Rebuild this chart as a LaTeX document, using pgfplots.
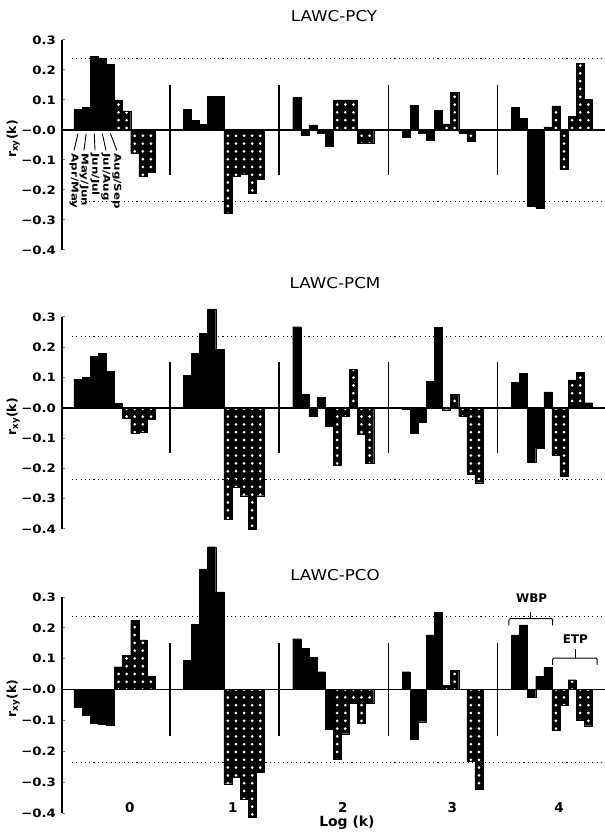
\documentclass[border=0pt]{standalone}
\usepackage{pgfplots}
\pgfplotsset{compat=1.18}
\usepackage{pgfplotstable}
\usepackage{fontspec}
\setmainfont{DejaVu Sans}
\usetikzlibrary{patterns}
\pgfdeclarepatternformonly{wdotsA}{\pgfqpoint{-1bp}{-1bp}}{\pgfqpoint{9.1bp}{8.8bp}}{\pgfqpoint{8.1bp}{7.8bp}}{%
  \pgfpathcircle{\pgfqpoint{5.14bp}{4bp}}{1.5bp}\pgfusepath{fill}}
\pgfdeclarepatternformonly{wdotsB}{\pgfqpoint{-1bp}{-1bp}}{\pgfqpoint{9.1bp}{8.8bp}}{\pgfqpoint{8.1bp}{7.8bp}}{%
  \pgfpathcircle{\pgfqpoint{1.08bp}{4bp}}{1.5bp}\pgfusepath{fill}}

% ---------- LAWC-PCY ----------
\pgfplotstableread{
x y
0.5 0.068
1.5 0.076
2.5 0.245
3.5 0.240
4.5 0.218
14 0.068
15 0.032
16 0.019
17 0.113
18 0.113
27.5 0.108
28.5 -0.016
29.5 0.017
30.5 -0.011
31.5 -0.055
41 -0.025
42 0.083
43 -0.011
44 -0.033
45 0.065
54.5 0.075
55.5 0.038
56.5 -0.253
57.5 -0.260
58.5 0.010
}\pcyW
\pgfplotstableread{
x y
5.5 0.100
6.5 0.064
7.5 -0.078
8.5 -0.155
9.5 -0.140
32.5 0.100
33.5 0.100
34.5 0.100
35.5 -0.045
36.5 -0.045
59.5 0.080
60.5 -0.130
61.5 0.045
62.5 0.222
63.5 0.103
}\pcyA
\pgfplotstableread{
x y
19 -0.278
20 -0.153
21 -0.147
22 -0.210
23 -0.163
46 0.020
47 0.126
48 -0.010
49 -0.036
50 0.002
}\pcyB

% ---------- LAWC-PCM ----------
\pgfplotstableread{
x y
0.5 0.094
1.5 0.100
2.5 0.170
3.5 0.180
4.5 0.120
14 0.108
15 0.180
16 0.246
17 0.327
18 0.193
27.5 0.268
28.5 0.045
29.5 -0.028
30.5 0.034
31.5 -0.060
41 -0.003
42 -0.083
43 -0.047
44 0.087
45 0.266
54.5 0.085
55.5 0.113
56.5 -0.178
57.5 -0.132
58.5 0.053
}\pcmW
\pgfplotstableread{
x y
5.5 0.015
6.5 -0.034
7.5 -0.083
8.5 -0.079
9.5 -0.038
32.5 -0.190
33.5 -0.028
34.5 0.127
35.5 -0.088
36.5 -0.183
59.5 -0.155
60.5 -0.226
61.5 0.092
62.5 0.118
63.5 0.017
}\pcmA
\pgfplotstableread{
x y
19 -0.368
20 -0.262
21 -0.290
22 -0.400
23 -0.290
46 -0.006
47 0.045
48 -0.028
49 -0.220
50 -0.247
}\pcmB

% ---------- LAWC-PCO ----------
\pgfplotstableread{
x y
0.5 -0.058
1.5 -0.083
2.5 -0.109
3.5 -0.112
4.5 -0.116
14 0.094
15 0.211
16 0.391
17 0.463
18 0.317
27.5 0.165
28.5 0.134
29.5 0.105
30.5 0.058
31.5 -0.128
41 0.058
42 -0.160
43 -0.104
44 0.177
45 0.250
54.5 0.177
55.5 0.210
56.5 -0.024
57.5 0.043
58.5 0.072
}\pcoW
\pgfplotstableread{
x y
5.5 0.074
6.5 0.111
7.5 0.224
8.5 0.161
9.5 0.044
32.5 -0.225
33.5 -0.143
34.5 -0.043
35.5 -0.109
36.5 -0.043
59.5 -0.133
60.5 -0.052
61.5 0.032
62.5 -0.100
63.5 -0.117
}\pcoA
\pgfplotstableread{
x y
19 -0.305
20 -0.284
21 -0.355
22 -0.413
23 -0.268
46 0.013
47 0.063
48 0.000
49 -0.233
50 -0.322
}\pcoB

\tikzset{
  zeroline/.style={line width=1.6bp},
  sep/.style={line width=1.4bp},
  sig/.style={line width=1.1bp, dash pattern=on 1.1bp off 3.2bp},
  mlab/.style={rotate=-90, anchor=west, inner sep=0pt, font=\bfseries\fontsize{9.5}{9.5}\selectfont},
  xlab/.style={font=\bfseries\fontsize{13.5}{14}\selectfont},
}
\pgfplotsset{
  panel/.style={
    anchor=south west, scale only axis, width=543bp,
    xmin=-1.48, xmax=65.56, ymin=-0.4, ymax=0.3,
    axis x line=none, axis y line*=left,
    y axis line style={line width=1.8bp},
    ytick={-0.4,-0.3,-0.2,-0.1,0,0.1,0.2,0.3},
    yticklabels={\scalebox{1.15}[1]{−0.4},\scalebox{1.15}[1]{−0.3},\scalebox{1.15}[1]{−0.2},\scalebox{1.15}[1]{−0.1},\scalebox{1.15}[1]{−0.0},\scalebox{1.15}[1]{0.1},\scalebox{1.15}[1]{0.2},\scalebox{1.15}[1]{0.3}},
    tick align=inside, major tick length=2.5bp,
    ytick style={line width=1bp},
    yticklabel style={font=\bfseries\fontsize{11.6}{12}\selectfont, xshift=-2.5bp},
    clip=false,
  },
  wbp/.style={ybar, bar width=1, bar shift=0pt, fill=black, draw=black, line width=0.3bp},
  etpA/.style={ybar, bar width=1, bar shift=0pt, fill=black, draw=black, line width=0.3bp,
    postaction={pattern=wdotsA, pattern color=white}},
  etpB/.style={ybar, bar width=1, bar shift=0pt, fill=black, draw=black, line width=0.3bp,
    postaction={pattern=wdotsB, pattern color=white}},
}

\newcommand{\decor}{%
  \draw[sig] (axis cs:-0.25,0.237) -- (axis cs:65.56,0.237);
  \draw[sig] (axis cs:-0.25,-0.237) -- (axis cs:65.56,-0.237);
  \draw[zeroline] (axis cs:-1.48,0) -- (axis cs:65.56,0);
  \draw[sep] (axis cs:11.85,-0.15) -- (axis cs:11.85,0.15);
  \draw[sep] (axis cs:25.3,-0.15) -- (axis cs:25.3,0.15);
  \draw[sep] (axis cs:38.8,-0.15) -- (axis cs:38.8,0.15);
  \draw[sep] (axis cs:52.3,-0.15) -- (axis cs:52.3,0.15);
  \node[rotate=90, font=\bfseries\fontsize{12.5}{12.5}\selectfont] at (axis cs:-7.5,-0.03) {r\textsubscript{xy}(k)};
}

\begin{document}
\begin{tikzpicture}
\path[use as bounding box] (0bp,-21bp) rectangle (605bp,813bp);

% Panel 1: LAWC-PCY
\begin{axis}[panel, at={(62bp,563bp)}, height=210bp]
\addplot[wbp] table[x=x,y=y]{\pcyW};
\addplot[etpA] table[x=x,y=y]{\pcyA};
\addplot[etpB] table[x=x,y=y]{\pcyB};
\decor
\draw[line width=0.9bp] (axis cs:0.5,-0.012) -- (axis cs:0.0,-0.068);
\draw[line width=0.9bp] (axis cs:1.5,-0.012) -- (axis cs:1.23,-0.068);
\draw[line width=0.9bp] (axis cs:2.5,-0.012) -- (axis cs:2.6,-0.068);
\draw[line width=0.9bp] (axis cs:3.5,-0.012) -- (axis cs:3.95,-0.068);
\draw[line width=0.9bp] (axis cs:4.5,-0.012) -- (axis cs:5.3,-0.068);
\node[mlab] at (axis cs:0.0,-0.078) {\scalebox{1.25}[1]{Apr/May}};
\node[mlab] at (axis cs:1.23,-0.078) {\scalebox{1.25}[1]{May/Jun}};
\node[mlab] at (axis cs:2.6,-0.078) {\scalebox{1.25}[1]{Jun/Jul}};
\node[mlab] at (axis cs:3.95,-0.078) {\scalebox{1.25}[1]{Jul/Aug}};
\node[mlab] at (axis cs:5.3,-0.078) {\scalebox{1.25}[1]{Aug/Sep}};
\end{axis}

% Panel 2: LAWC-PCM
\begin{axis}[panel, at={(62bp,284bp)}, height=212bp]
\addplot[wbp] table[x=x,y=y]{\pcmW};
\addplot[etpA] table[x=x,y=y]{\pcmA};
\addplot[etpB] table[x=x,y=y]{\pcmB};
\decor
\end{axis}

% Panel 3: LAWC-PCO
\begin{axis}[panel, at={(62bp,0bp)}, height=216bp]
\addplot[wbp] table[x=x,y=y]{\pcoW};
\addplot[etpA] table[x=x,y=y]{\pcoA};
\addplot[etpB] table[x=x,y=y]{\pcoB};
\decor
\draw[line width=1bp, rounded corners=1.2bp] (axis cs:53.7,0.208) -- (axis cs:53.7,0.23) -- (axis cs:59.1,0.23) -- (axis cs:59.1,0.208);
\draw[line width=1bp] (axis cs:56.4,0.23) -- (axis cs:56.4,0.252);
\node[font=\bfseries\fontsize{12}{12}\selectfont] at (axis cs:56.5,0.297) {WBP};
\draw[line width=1bp, rounded corners=1.2bp] (axis cs:59.1,0.08) -- (axis cs:59.1,0.102) -- (axis cs:64.6,0.102) -- (axis cs:64.6,0.08);
\draw[line width=1bp] (axis cs:61.9,0.102) -- (axis cs:61.9,0.13);
\node[font=\bfseries\fontsize{12}{12}\selectfont] at (axis cs:61.9,0.163) {ETP};
\node[xlab] at (axis cs:6.9,-0.381) {0};
\node[xlab] at (axis cs:19.6,-0.381) {1};
\node[xlab] at (axis cs:33.2,-0.381) {2};
\node[xlab] at (axis cs:46.7,-0.381) {3};
\node[xlab] at (axis cs:59.9,-0.381) {4};
\node[font=\bfseries\fontsize{14}{14}\selectfont] at (axis cs:33.7,-0.433) {Log (k)};
\end{axis}

\node[font=\fontsize{15}{15}\selectfont] at (334bp,797bp) {\scalebox{1.12}[1]{LAWC-PCY}};
\node[font=\fontsize{15}{15}\selectfont] at (335bp,530bp) {\scalebox{1.12}[1]{LAWC-PCM}};
\node[font=\fontsize{15}{15}\selectfont] at (335bp,238bp) {\scalebox{1.12}[1]{LAWC-PCO}};
\end{tikzpicture}
\end{document}
